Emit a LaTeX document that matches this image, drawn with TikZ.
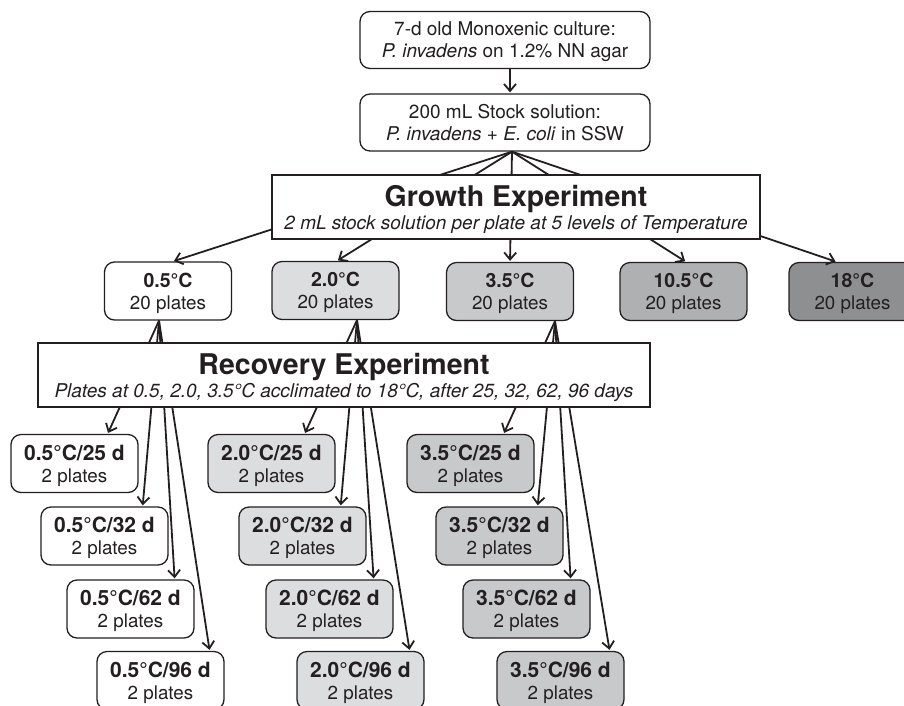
\documentclass[tikz,border=0pt]{standalone}
\usepackage{fontspec}
\setmainfont{TeX Gyre Heros}
\usetikzlibrary{arrows.meta}
\definecolor{ink}{HTML}{231F20}
\definecolor{gA}{HTML}{DCDDDF}
\definecolor{gB}{HTML}{C8C9CB}
\definecolor{gC}{HTML}{AFB0B2}
\definecolor{gD}{HTML}{8E8F91}
\newcommand\tempbold[1]{{\fontsize{19.5}{22}\selectfont\bfseries #1}}
\newcommand\subbold[1]{{\fontsize{21}{22}\selectfont\bfseries #1}}
\newcommand\titlefont[1]{{\fontsize{28.5}{23}\selectfont\bfseries #1}}
\begin{document}
\begin{tikzpicture}[x=1pt,y=-1pt,
  every node/.style={text=ink},
  rbox/.style={draw=ink, rounded corners=10pt, line width=1.3pt, inner sep=0pt, align=center,
    text depth=0pt, minimum width=127pt, minimum height=58pt, font=\fontsize{18.8}{22}\selectfont},
  topbox/.style={rbox, fill=white, minimum width=290pt, minimum height=57pt, font=\fontsize{19}{22}\selectfont},
  titlebox/.style={draw=ink, fill=white, line width=1.6pt, inner sep=0pt, align=center,
    text depth=0pt, minimum height=64pt, font=\fontsize{19}{23}\selectfont},
  conn/.style={draw=ink, line width=1.8pt},
  arr/.style={conn, shorten >=1pt, -{Straight Barb[length=7pt,width=12pt,line width=1.8pt]}}
]
\useasboundingbox (0,0) rectangle (904,705);

% top boxes
\node[topbox] (b1) at (505,40) {7-d old Monoxenic culture:\\\textit{P. invadens} on 1.2\% NN agar};
\node[topbox] (b2) at (505,122.5) {200 mL Stock solution:\\\textit{P. invadens} + \textit{E. coli} in SSW};
\draw[arr] ([xshift=5pt]b1.south) -- ([xshift=5pt]b2.north);

% temperature boxes
\node[rbox, fill=white] (t05) at (168,291) {\tempbold{0.5°C}\\20 plates};
\node[rbox, fill=gA] (t20) at (335.5,290.5) {\tempbold{2.0°C}\\20 plates};
\node[rbox, fill=gB] (t35) at (510,291.5) {\tempbold{3.5°C}\\20 plates};
\node[rbox, fill=gC] (t105) at (683.5,291.5) {\tempbold{10.5°C}\\20 plates};
\node[rbox, fill=gD] (t18) at (852.5,291.5) {\tempbold{18°C}\\20 plates};

\draw[arr] ([xshift=7pt]b2.south) -- ([xshift=5pt]t05.north);
\draw[arr] ([xshift=7pt]b2.south) -- ([xshift=1.5pt]t20.north);
\draw[arr] ([xshift=7pt]b2.south) -- (t35.north);
\draw[arr] ([xshift=7pt]b2.south) -- ([xshift=2.5pt]t105.north);
\draw[arr] ([xshift=7pt]b2.south) -- ([xshift=-16pt]t18.north);

\node[titlebox, minimum width=488pt] (growth) at (516,207)
  {\titlefont{Growth Experiment}\\\itshape 2 mL stock solution per plate at 5 levels of Temperature};

% recovery sub-boxes
\foreach \c/\t/\f/\xa/\xb/\xc/\xd in {05/0.5/white/74.5/104.5/130.5/160.5, 20/2.0/gA/271.5/302.5/329.5/360.5, 35/3.5/gB/470.5/499.5/526.5/560.5} {
  \node[rbox, fill=\f] (r\c a) at (\xa,463.5) {\subbold{\t°C/25 d}\\2 plates};
  \node[rbox, fill=\f] (r\c b) at (\xb,536) {\subbold{\t°C/32 d}\\2 plates};
  \node[rbox, fill=\f] (r\c c) at (\xc,609) {\subbold{\t°C/62 d}\\2 plates};
  \node[rbox, fill=\f] (r\c d) at (\xd,680.5) {\subbold{\t°C/96 d}\\2 plates};
}
\foreach \c/\ax in {05/-9, 20/21.5, 35/45} {
  \draw[arr] ([xshift=\ax pt]t\c.south) -- ([xshift=-31pt]r\c a.north east);
  \draw[arr] ([xshift=\ax pt]t\c.south) -- ([xshift=-26pt]r\c b.north east);
  \draw[arr] ([xshift=\ax pt]t\c.south) -- ([xshift=-20pt]r\c c.north east);
  \draw[arr] ([xshift=\ax pt]t\c.south) -- ([xshift=-15pt]r\c d.north east);
}

\node[titlebox, minimum width=612pt] (recovery) at (344,375)
  {\titlefont{Recovery Experiment}\\\itshape Plates at 0.5, 2.0, 3.5°C acclimated to 18°C, after 25, 32, 62, 96 days};
\end{tikzpicture}
\end{document}
